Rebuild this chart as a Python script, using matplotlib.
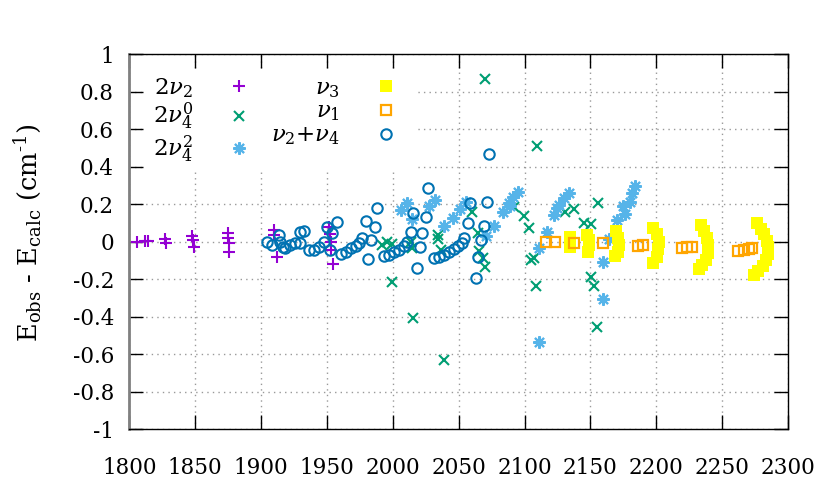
import matplotlib
matplotlib.use('Agg')
import matplotlib.pyplot as plt

plt.rcParams['font.family'] = 'DejaVu Serif'
plt.rcParams['mathtext.fontset'] = 'dejavuserif'

# 2nu2
x_2n2 = [1805.8, 1812, 1814.5, 1827, 1827.5, 1847.5, 1848, 1849, 1875, 1875, 1875.5, 1876,
         1909.5, 1909.5, 1912, 1951.4, 1952.5, 1953.3, 1953.3, 1954.5]
y_2n2 = [0.0, 0.003, 0.005, 0.013, -0.009, 0.03, 0.008, -0.03, 0.048, 0.021, -0.009, -0.053,
         0.06, 0.035, -0.08, 0.077, 0.041, 0.0, -0.044, -0.12]

# 2nu4^0
x_2n40 = [1992.1, 1995.4, 1999.7, 1999.2, 2014.9, 2013.6, 2015.3, 2034, 2034.4, 2036.5, 2039,
          2060.4, 2065, 2065.6, 2068.2, 2070, 2070.2, 2092.2, 2099.4, 2103.6, 2104.9, 2107.5,
          2108.8, 2109.3, 2130.4, 2137.9, 2145.5, 2150.6, 2155.7, 2150.6, 2153.1, 2154.9]
y_2n40 = [-0.018, 0.0, -0.014, -0.213, -0.032, 0.0, -0.406, 0.035, 0.012, -0.045, -0.631,
          0.16, 0.045, -0.05, -0.089, -0.137, 0.868, 0.187, 0.137, 0.075, -0.098, -0.089,
          -0.235, 0.512, 0.157, 0.174, 0.098, 0.093, 0.205, -0.187, -0.236, -0.457]

# 2nu4^2
x_2n42 = [2006.5, 2011.1, 2014.9, 2027.5, 2032.4, 2039, 2045.4, 2051.1, 2055.5, 2070.7, 2077,
          2083.4, 2088.4, 2088.8, 2091, 2094.8, 2110.8, 2111.3, 2117.1, 2122.7, 2125, 2126.5,
          2130.3, 2134.1, 2159.5, 2159.5, 2164.5, 2170.5, 2174.7, 2176, 2179.8, 2181.6, 2184.1]
y_2n42 = [0.169, 0.205, 0.12, 0.192, 0.222, 0.084, 0.125, 0.173, 0.213, 0.03, 0.084,
          0.16, 0.205, 0.19, 0.24, 0.267, -0.533, -0.035, 0.053, 0.142, 0.18, 0.196,
          0.231, 0.261, -0.107, -0.306, 0.014, 0.116, 0.192, 0.148, 0.213, 0.258, 0.297]

# nu3
x_n3 = [2134.5, 2134.8, 2134.5,
        2147.5, 2148.6, 2149, 2148.3,
        2169.3, 2171.2, 2172, 2171, 2168.9,
        2197.8, 2200.5, 2201.8, 2201.6, 2200.2, 2197.8,
        2233.6, 2236.5, 2238.5, 2239.3, 2239, 2237.5, 2235, 2232.4,
        2276.6, 2279.5, 2282, 2284, 2284.8, 2284.5, 2283, 2281, 2277.5, 2274]
y_n3 = [0.027, 0.0, -0.027,
        0.036, 0.01, -0.02, -0.053,
        0.057, 0.02, -0.02, -0.055, -0.078,
        0.073, 0.04, 0.0, -0.04, -0.08, -0.114,
        0.087, 0.055, 0.02, -0.02, -0.06, -0.1, -0.125, -0.144,
        0.097, 0.07, 0.04, 0.005, -0.03, -0.065, -0.1, -0.13, -0.157, -0.179]

# nu1
x_n1 = [2116.4, 2123.4, 2137.9, 2159.5, 2185.8, 2189.6, 2219.3, 2223.1, 2226.9,
        2262.3, 2266.5, 2270.5, 2272.5]
y_n1 = [0.0, 0.0, -0.005, -0.009, -0.024, -0.019, -0.035, -0.03, -0.026,
        -0.05, -0.045, -0.038, -0.035]

# nu2+nu4
x_n24 = [1904.6, 1908.4, 1913.4, 1914.7, 1917, 1918.5, 1922.3, 1926.1, 1929.9, 1929.4, 1932.4,
         1936.2, 1940, 1943.8, 1947.6, 1950.2, 1954, 1957.3, 1952.2, 1960.9, 1964.2, 1968,
         1971.8, 1974.3, 1976.9, 1979.4, 1983.2, 1986.3, 1981.4, 1988.3, 1993.3, 1997.1,
         2000.9, 2004.7, 2008.5, 2010.6, 2013.6, 2015.7, 2020.7, 2022.5, 2025, 2018.2, 2026.8,
         2031.4, 2035.2, 2039, 2042.8, 2046.1, 2049.2, 2052.2, 2054.2, 2056.8, 2058.8,
         2063.1, 2064.4, 2066.9, 2069, 2071.2, 2072.7]
y_n24 = [0.0, -0.018, 0.036, 0.0, -0.027, -0.035, -0.018, -0.009, -0.009, 0.053, 0.057,
         -0.044, -0.044, -0.027, 0.0, 0.08, 0.045, 0.103, -0.044, -0.066, -0.053, -0.035,
         -0.023, -0.005, 0.018, 0.112, 0.009, 0.08, -0.092, 0.178, -0.076, -0.071,
         -0.053, -0.044, -0.023, 0.0, 0.053, 0.151, -0.03, 0.048, 0.133, -0.142, 0.285,
         -0.089, -0.08, -0.071, -0.053, -0.04, -0.023, -0.009, 0.018, 0.098, 0.205,
         -0.195, -0.08, 0.009, 0.085, 0.213, 0.47]

x_ticks = [1800, 1850, 1900, 1950, 2000, 2050, 2100, 2150, 2200, 2250, 2300]
y_ticks = [-1, -0.8, -0.6, -0.4, -0.2, 0, 0.2, 0.4, 0.6, 0.8, 1]
y_ticklabels = ['-1', '-0.8', '-0.6', '-0.4', '-0.2', '0', '0.2', '0.4', '0.6', '0.8', '1']

fig = plt.figure(figsize=(8.3, 4.98), dpi=100)
ax = fig.add_axes([0.1558, 0.1382, 0.7936, 0.7530])

ax.plot(x_2n2, y_2n2, ls='none', marker='+', ms=8.5, mew=1.5, color='#9400D3',
        label=r'2$\nu_2$', zorder=3)
ax.plot(x_2n40, y_2n40, ls='none', marker='x', ms=7.5, mew=1.5, color='#009E73',
        label=r'2$\nu_4^0$', zorder=3)
ax.plot(x_2n42, y_2n42, ls='none', marker=(8, 2, 0), ms=9, mew=1.5, color='#56B4E9',
        label=r'2$\nu_4^2$', zorder=3)
ax.plot(x_n3, y_n3, ls='none', marker='s', ms=9, mew=0, color='#FFFF00',
        label=r'$\nu_3$', zorder=3)
ax.plot(x_n1, y_n1, ls='none', marker='s', ms=7, mew=1.6, mfc='none', color='#FFA500',
        label=r'$\nu_1$', zorder=3)
ax.plot(x_n24, y_n24, ls='none', marker='o', ms=7.5, mew=1.5, mfc='none', color='#0072B2',
        label=r'$\nu_2$+$\nu_4$', zorder=3)

ax.set_xlim(1800, 2300)
ax.set_ylim(-1, 1)
ax.set_xticks(x_ticks)
ax.set_yticks(y_ticks)
ax.set_yticklabels(y_ticklabels)

ax.grid(True, color='#999999', linestyle=(0, (1, 3)), linewidth=1)
ax.set_axisbelow(True)

ax.tick_params(direction='in', length=10, width=1, top=True, right=True, labelsize=15.5)
ax.tick_params(axis='y', pad=11)
ax.tick_params(axis='x', pad=20)
for t in ax.xaxis.get_major_ticks():
    t.tick2line.set_color('#888888')
for t in ax.yaxis.get_major_ticks():
    t.tick1line.set_color('#444444')
    t.tick2line.set_color('#444444')

ax.spines['left'].set_color('#808080')
ax.spines['left'].set_linewidth(2)
for s in ['top', 'right', 'bottom']:
    ax.spines[s].set_linewidth(1)

ax.set_ylabel('E$_{\\rm obs}$ - E$_{\\rm calc}$ (cm$^{\\rm \u2010 1}$)', fontsize=18.5)
ax.yaxis.set_label_coords(-0.13, 0.523)

leg = ax.legend(ncol=2, markerfirst=False, loc='upper left', bbox_to_anchor=(0.025, 0.96),
                frameon=True, fancybox=False, edgecolor='none', facecolor='white',
                framealpha=1, borderpad=0.3, borderaxespad=0, handlelength=2,
                handletextpad=1.0, columnspacing=0.38, labelspacing=0.05, fontsize=16.5)
leg.set_zorder(5)

fig.savefig('out.png', dpi=100)
